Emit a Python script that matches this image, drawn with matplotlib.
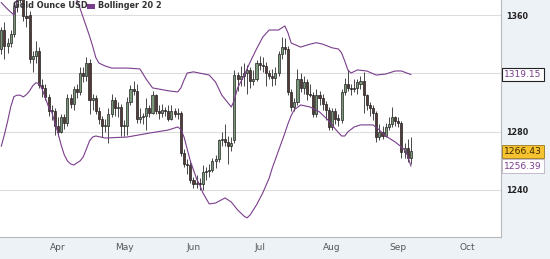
import matplotlib
matplotlib.use("Agg")
import matplotlib.pyplot as plt
import pandas as pd

# trading days shown (Good Friday is not traded)
days = pd.bdate_range("2014-03-06", "2014-09-05")
days = days[days != pd.Timestamp("2014-04-18")]

opens = [
    1337, 1350, 1339, 1341, 1347, 1366, 1370, 1380, 1359, 1360, 1330, 1332, 1335, 1312, 1310, 1304, 1294, 1294,
    1284, 1280, 1290, 1286, 1303, 1299, 1309, 1307, 1320, 1318, 1327, 1302, 1303, 1294, 1289, 1284, 1284, 1292, 1302, 1296, 1297,
    1284, 1284, 1300, 1309, 1308, 1289, 1290, 1291, 1296, 1293, 1305, 1294, 1293, 1295, 1294, 1289, 1294, 1292, 1293, 1265, 1258, 1257,
    1247, 1244, 1245, 1244, 1252, 1253, 1254, 1260, 1261, 1274, 1275, 1273, 1270, 1274, 1319, 1316, 1318, 1320, 1322, 1315, 1316,
    1327, 1326, 1325, 1320, 1318, 1317, 1320, 1333, 1338, 1337, 1307, 1297, 1300, 1316, 1310, 1314, 1306, 1305, 1292, 1305, 1303, 1299, 1295,
    1283, 1294, 1289, 1288, 1307, 1313, 1310, 1309, 1310, 1313, 1315, 1305, 1298, 1296, 1293, 1276, 1280, 1277, 1283, 1285, 1290,
    1287, 1286, 1266, 1269, 1262,
]
highs = [
    1352, 1355, 1344, 1350, 1368, 1374, 1392, 1390, 1366, 1363, 1335, 1342, 1338, 1316, 1313, 1306, 1298, 1296,
    1290, 1292, 1292, 1306, 1306, 1311, 1313, 1324, 1324, 1331, 1330, 1306, 1305, 1297, 1291, 1289, 1296, 1306, 1304, 1300, 1299,
    1288, 1304, 1312, 1315, 1313, 1296, 1293, 1303, 1298, 1308, 1306, 1298, 1299, 1297, 1298, 1298, 1296, 1296, 1294, 1268, 1261, 1259,
    1249, 1250, 1248, 1257, 1256, 1258, 1262, 1264, 1275, 1280, 1285, 1277, 1276, 1322, 1321, 1325, 1327, 1326, 1324, 1322, 1329,
    1332, 1331, 1328, 1322, 1323, 1324, 1335, 1345, 1344, 1339, 1309, 1303, 1323, 1320, 1318, 1316, 1313, 1307, 1309, 1308, 1306, 1301, 1297,
    1296, 1296, 1292, 1309, 1317, 1322, 1313, 1316, 1316, 1318, 1321, 1306, 1300, 1298, 1294, 1285, 1284, 1286, 1290, 1297, 1291,
    1290, 1287, 1272, 1275, 1276,
]
lows = [
    1333, 1330, 1334, 1338, 1345, 1362, 1368, 1356, 1352, 1327, 1321, 1327, 1310, 1304, 1302, 1291, 1288, 1278,
    1277, 1279, 1282, 1284, 1296, 1295, 1303, 1305, 1314, 1315, 1292, 1295, 1292, 1285, 1276, 1280, 1272, 1290, 1291, 1290, 1277,
    1277, 1278, 1298, 1305, 1286, 1286, 1285, 1281, 1290, 1292, 1292, 1289, 1290, 1291, 1287, 1288, 1290, 1289, 1263, 1256, 1251, 1245,
    1241, 1241, 1240, 1240, 1247, 1249, 1252, 1255, 1259, 1270, 1270, 1258, 1267, 1272, 1308, 1311, 1311, 1306, 1310, 1312, 1315,
    1322, 1321, 1311, 1316, 1311, 1312, 1318, 1330, 1333, 1305, 1294, 1294, 1298, 1307, 1306, 1302, 1304, 1290, 1290, 1298, 1295, 1288, 1281,
    1281, 1285, 1284, 1286, 1305, 1308, 1305, 1307, 1306, 1309, 1293, 1295, 1291, 1288, 1273, 1274, 1275, 1276, 1281, 1283, 1284,
    1283, 1262, 1262, 1259, 1258,
]
closes = [
    1350, 1339, 1341, 1347, 1366, 1370, 1379, 1359, 1358, 1330, 1332, 1335, 1312, 1310, 1304, 1294, 1294, 1284,
    1280, 1290, 1286, 1303, 1299, 1309, 1307, 1320, 1318, 1327, 1302, 1303, 1294, 1289, 1284, 1284, 1292, 1302, 1296, 1297, 1284,
    1284, 1300, 1309, 1308, 1289, 1290, 1291, 1296, 1293, 1305, 1294, 1293, 1295, 1294, 1289, 1294, 1292, 1293, 1265, 1258, 1257, 1247,
    1244, 1245, 1244, 1252, 1253, 1254, 1260, 1261, 1274, 1275, 1273, 1270, 1272, 1319, 1316, 1318, 1320, 1322, 1315, 1316, 1327,
    1326, 1325, 1320, 1318, 1317, 1320, 1333, 1338, 1337, 1307, 1297, 1300, 1316, 1310, 1314, 1306, 1305, 1292, 1305, 1303, 1299, 1295, 1283,
    1294, 1289, 1288, 1307, 1313, 1310, 1309, 1310, 1314, 1315, 1305, 1298, 1296, 1293, 1276, 1280, 1277, 1283, 1285, 1290, 1287,
    1286, 1266, 1269, 1262, 1266.43,
]

# Bollinger 20 2 at these days
upper_days = [
    "2014-03-06", "2014-03-10", "2014-03-12", "2014-03-13", "2014-03-14", "2014-03-19", "2014-03-26", "2014-04-03",
    "2014-04-08", "2014-04-09", "2014-04-10", "2014-04-11", "2014-04-14", "2014-04-15", "2014-04-16", "2014-04-17",
    "2014-04-21", "2014-04-23", "2014-04-25", "2014-05-02", "2014-05-08", "2014-05-12", "2014-05-14", "2014-05-21",
    "2014-05-26", "2014-05-27", "2014-05-28", "2014-05-29", "2014-06-02", "2014-06-09", "2014-06-11", "2014-06-13",
    "2014-06-18", "2014-06-19", "2014-06-20", "2014-06-24", "2014-06-26", "2014-06-30", "2014-07-02", "2014-07-04",
    "2014-07-09", "2014-07-11", "2014-07-14", "2014-07-15", "2014-07-18", "2014-07-23", "2014-07-25", "2014-07-29",
    "2014-08-01", "2014-08-05", "2014-08-06", "2014-08-07", "2014-08-08", "2014-08-11", "2014-08-13", "2014-08-18",
    "2014-08-21", "2014-08-26", "2014-08-29", "2014-09-02", "2014-09-05",
]
upper_band = [
    1368.5, 1364, 1360, 1370, 1384, 1395, 1398, 1392,
    1378, 1370.3, 1364.5, 1358.2, 1352, 1345.6, 1338.6, 1330.8,
    1327, 1325, 1323.6, 1323.6, 1323, 1316, 1310, 1308,
    1307.2, 1310, 1315.4, 1320.2, 1321, 1318.8, 1314, 1305,
    1296.9, 1301.7, 1310, 1318.2, 1327.8, 1336.7, 1344.9, 1349.7,
    1349.7, 1352.5, 1347.7, 1340.8, 1338, 1340, 1341, 1340,
    1337.5, 1336.7, 1334, 1328.5, 1322.3, 1320.2, 1322.3, 1321.6,
    1318.8, 1319.5, 1321.6, 1321.6, 1319.15,
]
lower_days = [
    "2014-03-06", "2014-03-07", "2014-03-10", "2014-03-11", "2014-03-12", "2014-03-13", "2014-03-14", "2014-03-17",
    "2014-03-18", "2014-03-19", "2014-03-20", "2014-03-21", "2014-03-24", "2014-03-25", "2014-03-26", "2014-03-27",
    "2014-03-28", "2014-03-31", "2014-04-01", "2014-04-02", "2014-04-03", "2014-04-04", "2014-04-07", "2014-04-08",
    "2014-04-09", "2014-04-10", "2014-04-11", "2014-04-14", "2014-04-15", "2014-04-16", "2014-04-17", "2014-04-23",
    "2014-05-02", "2014-05-13", "2014-05-21", "2014-05-26", "2014-05-27", "2014-05-28", "2014-05-29", "2014-05-30",
    "2014-06-02", "2014-06-03", "2014-06-04", "2014-06-05", "2014-06-09", "2014-06-11", "2014-06-16", "2014-06-18",
    "2014-06-20", "2014-06-24", "2014-06-25", "2014-06-26", "2014-06-30", "2014-07-02", "2014-07-04", "2014-07-07",
    "2014-07-08", "2014-07-09", "2014-07-10", "2014-07-11", "2014-07-14", "2014-07-15", "2014-07-16", "2014-07-18",
    "2014-07-23", "2014-07-28", "2014-07-31", "2014-08-04", "2014-08-06", "2014-08-07", "2014-08-08", "2014-08-12",
    "2014-08-14", "2014-08-20", "2014-08-22", "2014-08-26", "2014-08-29", "2014-09-02", "2014-09-03", "2014-09-04",
    "2014-09-05",
]
lower_band = [
    1270, 1278, 1287, 1297, 1304, 1305, 1305, 1303.8,
    1305.5, 1308, 1311.5, 1313.5, 1313, 1309, 1303, 1297,
    1293.5, 1286, 1279, 1270.8, 1264, 1259.9, 1257.8, 1257.1,
    1258.5, 1259.9, 1262.6, 1268, 1273.6, 1276.3, 1277, 1275.6,
    1276.3, 1279, 1281.1, 1283.2, 1281.5, 1276.3, 1268, 1259.9,
    1253.7, 1247.5, 1243.4, 1237.9, 1230.4, 1231, 1234.5, 1231.7,
    1226.3, 1222.1, 1220.8, 1222.9, 1229.7, 1238, 1248, 1255,
    1261, 1267, 1273, 1279, 1285.5, 1291, 1295, 1298.3,
    1296.9, 1293.5, 1287.3, 1281.8, 1277, 1277, 1279.8, 1283.2,
    1284.6, 1284.6, 1281.1, 1277, 1272.9, 1269.5, 1267.4, 1263.3,
    1256.39,
]

y_ticks = [1240, 1280, 1320, 1360]
y_labels = ["1240", "1280", "", "1360"]  # 1320 sits under the band value box
month_names = ["Apr", "May", "Jun", "Jul", "Aug", "Sep", "Oct"]

# the axis counts trading days, Apr 1 at 0
first = list(days).index(pd.Timestamp("2014-04-01"))
pos = {d: i - first for i, d in enumerate(days)}
xs = [pos[d] for d in days]

future = pd.bdate_range("2014-03-06", "2014-10-31")
future = future[future != pd.Timestamp("2014-04-18")]
month_pos = []
for m in range(4, 11):
    mdays = [i for i, d in enumerate(future) if d.month == m]
    month_pos.append(mdays[0] - first)

purple = "#7a3d8c"
bg = "#edf2f7"

fig = plt.figure(figsize=(5.5, 2.59), dpi=100, facecolor=bg)
ax = fig.add_axes([0, 1 - 237 / 259, 501 / 550, 237 / 259])
ax.set_facecolor("white")

for x, o, h, l, c in zip(xs, opens, highs, lows, closes):
    up = c >= o
    ax.vlines(x, l, h, color="#2b2b2b", linewidth=0.6, zorder=3)
    ax.bar(x, max(abs(c - o), 0.6), bottom=min(o, c), width=0.66,
           color="#7a987a" if up else "#553838", edgecolor="#222222",
           linewidth=0.5, zorder=4)

ax.plot([pos[pd.Timestamp(d)] for d in upper_days], upper_band,
        color=purple, linewidth=0.8, zorder=5)
ax.plot([pos[pd.Timestamp(d)] for d in lower_days], lower_band,
        color=purple, linewidth=0.8, zorder=5)

ax.set_xlim(-18.41, 140.6)
ax.set_ylim(1207.7, 1370.3)

ax.set_yticks(y_ticks)
ax.set_yticklabels(y_labels)
ax.yaxis.tick_right()
ax.tick_params(axis="y", length=0, pad=4, labelsize=5.8, labelcolor="#222222")
for t in ax.get_yticklabels():
    t.set_fontweight("bold")
ax.set_xticks(month_pos)
ax.set_xticklabels(month_names)
ax.tick_params(axis="x", length=0, pad=4, labelsize=6.5, labelcolor="#555555")
ax.grid(axis="y", color="#dddddd", linewidth=0.8)
ax.set_axisbelow(True)

for s in ["top", "left"]:
    ax.spines[s].set_visible(False)
for s in ["right", "bottom"]:
    ax.spines[s].set_color("#b8b8b8")
    ax.spines[s].set_linewidth(0.8)

ytr = ax.get_yaxis_transform()
ax.text(1.006, upper_band[-1], f"{upper_band[-1]:.2f}", transform=ytr, va="center", ha="left",
        fontsize=6.6, color=purple, clip_on=False, zorder=10,
        bbox=dict(boxstyle="square,pad=0.25", facecolor="white", edgecolor="#222222", linewidth=0.8))
ax.text(1.006, closes[-1], f"{closes[-1]:.2f}", transform=ytr, va="center", ha="left",
        fontsize=6.6, color="#3a2a00", clip_on=False, zorder=10,
        bbox=dict(boxstyle="square,pad=0.25", facecolor="#f6c230", edgecolor="#9a7a20", linewidth=0.6))
ax.text(1.006, lower_band[-1], f"{lower_band[-1]:.2f}", transform=ytr, va="center", ha="left",
        fontsize=6.6, color=purple, clip_on=False, zorder=10,
        bbox=dict(boxstyle="square,pad=0.25", facecolor="white", edgecolor="#b9b0c4", linewidth=0.6))

# legend in the top left corner
fig.text(13 / 550, 1 - 5.5 / 259, "Gold Ounce USD", fontsize=5.9, fontweight="bold",
         color="#333333", va="center", ha="left", zorder=10)
fig.patches.append(plt.Rectangle((87 / 550, 1 - 8.5 / 259), 8 / 550, 5 / 259,
                                 transform=fig.transFigure, facecolor=purple,
                                 edgecolor="none", zorder=10))
fig.text(98 / 550, 1 - 5.5 / 259, "Bollinger 20 2", fontsize=5.9, fontweight="bold",
         color="#333333", va="center", ha="left", zorder=10)

fig.savefig("out.png", dpi=100, facecolor=bg)
